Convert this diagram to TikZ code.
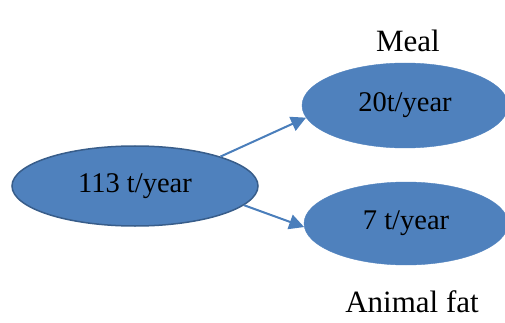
\documentclass[tikz,border=0pt]{standalone}
\usepackage{fontspec}
\setmainfont{Liberation Serif}
\usetikzlibrary{shapes.geometric,arrows.meta}

\definecolor{flowfill}{RGB}{79,129,189}
\definecolor{flowline}{RGB}{56,93,138}
\definecolor{flowarrow}{RGB}{74,126,187}

\tikzset{
  massnode/.style={ellipse,fill=flowfill,inner sep=0pt,font=\fontsize{28.5}{30}\selectfont},
  outlabel/.style={anchor=base,inner sep=0pt,font=\fontsize{31}{33}\selectfont},
  flowarr/.style={draw=flowarrow,line width=2pt,-{Triangle[length=15pt,width=15pt]}}
}

\begin{document}
\begin{tikzpicture}[x=1pt,y=1pt,yscale=-1,xscale=1]
\useasboundingbox (0,0) rectangle (505,323);

%Shape: Ellipse
\node (total) [massnode,draw=flowline,line width=1.5pt,minimum width=246pt,minimum height=80pt] at (135,186) {113 t/year};
%Shape: Ellipse
\node (meal) [massnode,draw=flowfill,minimum width=206pt,minimum height=85pt] at (405,105.5) {20t/year};
%Shape: Ellipse
\node (fat) [massnode,draw=flowfill,minimum width=204pt,minimum height=83pt] at (406,223.5) {7 t/year};

%Straight Lines
\draw [flowarr] (total.19) -- (meal.187);
%Straight Lines
\draw [flowarr] (total.-10) -- (fat.182);

% Text Node
\node (meallabel) [outlabel] at (408,52) {Meal};
% Text Node
\node (fatlabel) [outlabel] at (412,312) {Animal fat};

\end{tikzpicture}
\end{document}
